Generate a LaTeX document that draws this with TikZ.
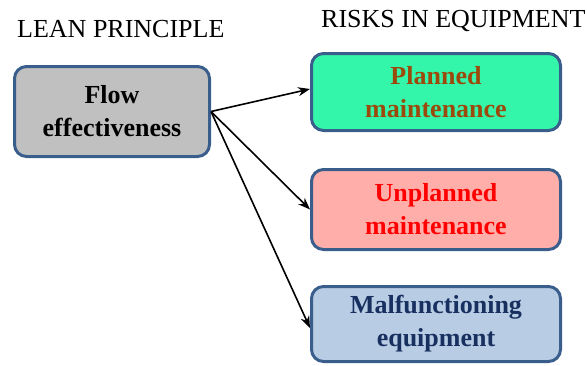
\documentclass[tikz,border=0pt]{standalone}
\usepackage{fontspec}
\setmainfont{LiberationSerif}[Extension=.ttf, UprightFont=*-Regular, BoldFont=*-Bold]
\usetikzlibrary{arrows.meta}
\definecolor{edgeblue}{RGB}{58,94,140}
\definecolor{flowgray}{RGB}{192,192,192}
\definecolor{plannedfill}{RGB}{52,246,170}
\definecolor{plannedtext}{RGB}{156,74,12}
\definecolor{unplannedfill}{RGB}{255,174,170}
\definecolor{unplannedtext}{RGB}{255,0,0}
\definecolor{malfill}{RGB}{184,204,228}
\definecolor{maltext}{RGB}{24,48,96}
\tikzset{
  box/.style={draw=edgeblue, line width=3pt, rounded corners=12pt, align=center,
    font=\fontsize{26}{33}\selectfont\bfseries, inner sep=0pt},
  header/.style={font=\fontsize{26}{30}\selectfont, anchor=base west, inner sep=0pt},
  link/.style={-{Stealth[length=12pt,width=9pt]}, line width=1.6pt, black}
}
\begin{document}
\begin{tikzpicture}[x=1pt,y=-1pt]
  \useasboundingbox (0,0) rectangle (587,365);
  % column headers
  \node[header] (lean) at (17,37) {LEAN PRINCIPLE};
  \node[header] (risks) at (321,27) {RISKS IN EQUIPMENT};
  % boxes
  \node[box, fill=flowgray, minimum width=195pt, minimum height=90pt] (flow) at (112,111.5) {Flow\\effectiveness};
  \node[box, fill=plannedfill, text=plannedtext, minimum width=249pt, minimum height=77pt] (planned) at (436,92) {Planned\\maintenance};
  \node[box, fill=unplannedfill, text=unplannedtext, minimum width=249pt, minimum height=80pt] (unplanned) at (436,209.5) {Unplanned\\maintenance};
  \node[box, fill=malfill, text=maltext, minimum width=249pt, minimum height=75pt] (mal) at (436,324) {Malfunctioning\\equipment};
  % connectors
  \draw[link] (flow.east) -- ([yshift=3pt]planned.west);
  \draw[link] (flow.east) -- (unplanned.west);
  \draw[link] (flow.east) -- ([yshift=-4pt]mal.west);
\end{tikzpicture}
\end{document}
